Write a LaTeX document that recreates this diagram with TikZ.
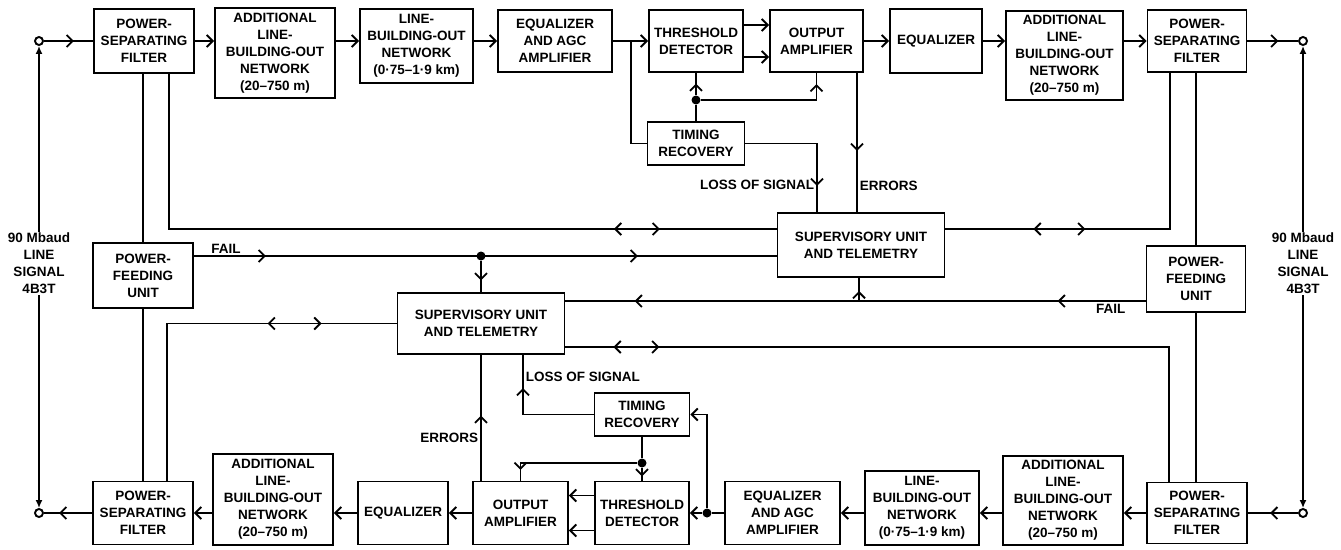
\documentclass[tikz,border=0pt]{standalone}
\usepackage{fontspec}
\setmainfont{Liberation Sans}
\usetikzlibrary{arrows.meta, decorations.markings}
\tikzset{
  box/.style = {rectangle, draw=black, align=center, font=\fontsize{13.5}{17}\selectfont\bfseries, inner sep=2pt},
  sz/.style 2 args = {minimum width=#1pt, minimum height=#2pt},
  lbl/.style = {align=center, font=\fontsize{13.5}{17}\selectfont\bfseries, inner sep=2pt},
  term/.style = {circle, draw=black, fill=white, inner sep=0pt, minimum size=8pt},
  dot/.style = {circle, fill=black, inner sep=0pt, minimum size=9pt},
  >={Straight Barb[length=6pt,width=12pt]},
  arr/.style = {->},
  sig/.style = {{Latex[length=8pt,width=7pt]}-{Latex[length=8pt,width=7pt]}},
  midarr/.style = {postaction={decorate}, decoration={markings, mark=at position #1 with {\arrow{>}}}},
  twoarr/.style 2 args = {postaction={decorate}, decoration={markings,
    mark=at position #1 with {\arrow{>}}, mark=at position #2 with {\arrow{>}}}},
  twoway/.style 2 args = {postaction={decorate}, decoration={markings,
    mark=at position #1 with {\arrowreversed{>}}, mark=at position #2 with {\arrow{>}}}}
}

\begin{document}
\begin{tikzpicture}[x=1pt, y=-1pt, line width=1.9pt]
\useasboundingbox (0,0) rectangle (1341,549);
\coordinate (rowA) at (0,41);
\coordinate (rowC) at (0,513);

% Top path (->)
\node[term] (tA) at (39,41) {};
\node[box, sz={100}{64}] (psfA) at (144,41) {POWER-\\SEPARATING\\FILTER};
\node[box, sz={120}{90}] (albA) at (275,53) {ADDITIONAL\\LINE-\\BUILDING-OUT\\NETWORK\\(20–750 m)};
\node[box, sz={113}{74}] (lboA) at (416.5,46) {LINE-\\BUILDING-OUT\\NETWORK\\(0·75–1·9 km)};
\node[box, sz={114}{62}] (eqaA) at (555,41) {EQUALIZER\\AND AGC\\AMPLIFIER};
\node[box, sz={94}{62}] (tdA) at (696,41) {THRESHOLD\\DETECTOR};
\node[box, sz={93}{62}] (oaA) at (816.5,41) {OUTPUT\\AMPLIFIER};
\node[box, sz={92}{64}] (eqA) at (936,41) {EQUALIZER};
\node[box, sz={117}{89}] (albB) at (1064.5,55.5) {ADDITIONAL\\LINE-\\BUILDING-OUT\\NETWORK\\(20–750 m)};
\node[box, sz={99}{62}] (psfB) at (1197,41) {POWER-\\SEPARATING\\FILTER};
\node[term] (tB) at (1303,41) {};
\node[box, sz={97}{43}] (trA) at (696,143.5) {TIMING\\RECOVERY};
\node[dot] (dA) at (696,100) {};

% Middle
\node[box, sz={167}{64}] (suA) at (861,245) {SUPERVISORY UNIT\\AND TELEMETRY};
\node[box, sz={100}{65}] (pfuA) at (143,275.5) {POWER-\\FEEDING\\UNIT};
\node[box, sz={99}{66}] (pfuB) at (1196,279) {POWER-\\FEEDING\\UNIT};
\node[box, sz={167}{61}] (suB) at (481,323.5) {SUPERVISORY UNIT\\AND TELEMETRY};
\node[dot] (dB) at (481,256) {};
\coordinate (fB) at (859,301);

% Bottom path (<-)
\node[term] (tD) at (1303,513) {};
\node[box, sz={100}{61}] (psfD) at (1197,513) {POWER-\\SEPARATING\\FILTER};
\node[box, sz={120}{89}] (albD) at (1063,500.5) {ADDITIONAL\\LINE-\\BUILDING-OUT\\NETWORK\\(20–750 m)};
\node[box, sz={114}{74}] (lboC) at (922,508) {LINE-\\BUILDING-OUT\\NETWORK\\(0·75–1·9 km)};
\node[box, sz={115}{63}] (eqaC) at (782.5,513) {EQUALIZER\\AND AGC\\AMPLIFIER};
\node[box, sz={94}{63}] (tdC) at (642,513) {THRESHOLD\\DETECTOR};
\node[box, sz={95}{63}] (oaC) at (520.5,513) {OUTPUT\\AMPLIFIER};
\node[box, sz={90}{63}] (eqC) at (403,513) {EQUALIZER};
\node[box, sz={120}{91}] (albC) at (273,499.5) {ADDITIONAL\\LINE-\\BUILDING-OUT\\NETWORK\\(20–750 m)};
\node[box, sz={100}{63}] (psfC) at (143,513) {POWER-\\SEPARATING\\FILTER};
\node[term] (tC) at (39,513) {};
\node[box, sz={95}{43}] (trB) at (642,414.5) {TIMING\\RECOVERY};
\node[dot] (dC) at (707,513) {};
\node[dot] (dD) at (642,463) {};

% ----- ARROWS -----
% Top path
\draw[midarr=30pt] (tA) -- (psfA.west |- rowA);
\draw[arr] (psfA.east |- rowA) -- (albA.west |- rowA);
\draw[arr] (albA.east |- rowA) -- (lboA.west |- rowA);
\draw[arr] (lboA.east |- rowA) -- (eqaA.west |- rowA);
\coordinate (sA) at (631,41);
\draw (eqaA.east) -- (sA);
\draw[arr] (sA) -- (tdA.west);
\draw (sA) |- (trA.west);
\draw[arr] ([yshift=16pt]tdA.east) -- ([yshift=16pt]tdA.east -| oaA.west);
\draw[arr] ([yshift=-16pt]tdA.east) -- ([yshift=-16pt]tdA.east -| oaA.west);
\draw[arr] (oaA.east |- rowA) -- (eqA.west |- rowA);
\draw[arr] (eqA.east |- rowA) -- (albB.west |- rowA);
\draw[arr] (albB.east |- rowA) -- (psfB.west |- rowA);
\draw[midarr=31pt] (psfB.east |- rowA) -- (tB);
% timing, top
\draw (trA.north) -- (dA);
\draw[midarr=11pt] (dA) -- (tdA.south);
\draw[midarr=131pt] (dA) -| (oaA.south);
\draw[midarr=114pt] (trA.east) -| ([xshift=-44pt]suA.north)
  node[lbl, pos=0.8, left] (lossA) {LOSS OF SIGNAL};
\draw[midarr=78pt] ([xshift=40.5pt]oaA.south) -- ([xshift=40.5pt]oaA.south |- suA.north)
  node[lbl, pos=0.81, right] (errA) {ERRORS};

% Line signal, both sides
\draw[sig] (tA) -- (tC) node[lbl, pos=0.47, fill=white, inner sep=1pt] (sigA) {90 Mbaud\\LINE\\SIGNAL\\4B3T};
\draw[sig] (tB) -- (tD) node[lbl, pos=0.47, fill=white, inner sep=1pt] (sigB) {90 Mbaud\\LINE\\SIGNAL\\4B3T};

% Power feeding
\draw (pfuA.north |- psfA.south) -- (pfuA.north);
\draw (pfuA.south) -- (pfuA.south |- psfC.north);
\draw (pfuB.north |- psfB.south) -- (pfuB.north);
\draw (pfuB.south) -- (pfuB.south |- psfD.north);

% Supervisory links
\draw[twoway={600pt}{646pt}] ([xshift=25pt]psfA.south) |- ([yshift=16pt]suA.west);
\draw[twoway={88pt}{140pt}] ([yshift=16pt]suA.east) -| ([xshift=-27pt]psfB.south);
\draw[twoway={75pt}{129pt}] (suB.west) -| ([xshift=24pt]psfC.north);
\draw[twoway={48pt}{94pt}] ([yshift=-23.5pt]suB.east) -| ([xshift=-28pt]psfD.north);
\draw[twoarr={72pt}{444pt}] (pfuA.east |- dB) -- (suA.west |- dB)
  node[lbl, pos=0.055, above] (failA) {FAIL};
\draw[midarr=19pt] (dB) -- (suB.north);
\draw[twoarr={88pt}{511pt}] (pfuB.west |- fB) -- (suB.east |- fB)
  node[lbl, pos=0.06, below] (failB) {FAIL};
\draw[midarr=10pt] (fB) -- (fB |- suA.south);

% Bottom path
\draw[midarr=28pt] (tD) -- (psfD.east |- rowC);
\draw[arr] (psfD.west |- rowC) -- (albD.east |- rowC);
\draw[arr] (albD.west |- rowC) -- (lboC.east |- rowC);
\draw[arr] (lboC.west |- rowC) -- (eqaC.east |- rowC);
\draw (eqaC.west) -- (dC);
\draw[arr] (dC) -- (tdC.east |- dC);
\draw[arr] (dC) |- (trB.east);
\draw[arr] ([yshift=17.5pt]tdC.west) -- ([yshift=17.5pt]tdC.west -| oaC.east);
\draw[arr] ([yshift=-17.5pt]tdC.west) -- ([yshift=-17.5pt]tdC.west -| oaC.east);
\draw[arr] (oaC.west |- rowC) -- (eqC.east |- rowC);
\draw[arr] (eqC.west |- rowC) -- (albC.east |- rowC);
\draw[arr] (albC.west |- rowC) -- (psfC.east |- rowC);
\draw[midarr=33pt] (psfC.west |- rowC) -- (tC);
% timing, bottom
\draw (trB.south) -- (dD);
\draw[midarr=8pt] (dD) -- (tdC.north);
\draw[midarr=123pt] (dD) -| (oaC.north);
\draw[midarr=97pt] (trB.west) -| ([xshift=42pt]suB.south)
  node[lbl, pos=0.82, right] (lossB) {LOSS OF SIGNAL};
\draw[midarr=65pt] ([xshift=-39.5pt]oaC.north) -- ([xshift=-39.5pt]oaC.north |- suB.south)
  node[lbl, pos=0.34, left] (errB) {ERRORS};

\end{tikzpicture}
\end{document}
